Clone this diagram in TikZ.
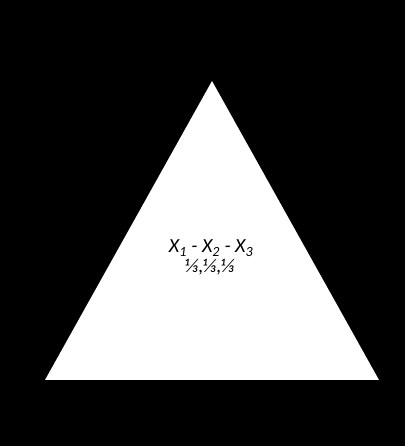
\documentclass[tikz,border=0pt]{standalone}
\usepackage{fontspec}
\setmainfont{Carlito}
\begin{document}
\begin{tikzpicture}[x=1pt,y=1pt,
  lbl/.style={font=\fontsize{20}{22}\selectfont\itshape, align=center, inner sep=0pt}]
\fill[black] (0,0) rectangle (405,446);
\useasboundingbox (0,0) rectangle (405,446);
\coordinate (A) at (212,365);
\coordinate (B) at (45,66);
\coordinate (C) at (379,66);
\fill[white] (A) -- (B) -- (C) -- cycle;
\node[lbl, anchor=base] (t1) at (211,193) {X\textsubscript{1} - X\textsubscript{2} - X\textsubscript{3}};
\node[lbl, anchor=base, font=\fontsize{19.5}{21}\selectfont\itshape] (t2) at (210,173) {⅓,⅓,⅓};
\end{tikzpicture}
\end{document}
